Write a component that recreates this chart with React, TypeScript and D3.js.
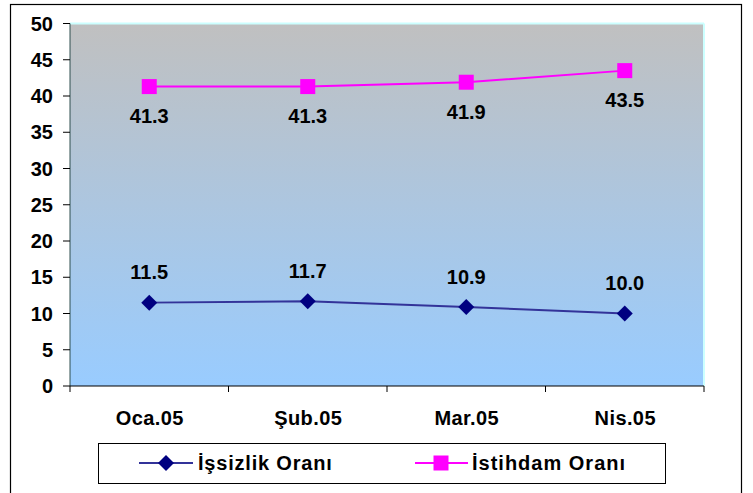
import React from "react";
import * as d3 from "d3";

const categories = ["Oca.05", "Şub.05", "Mar.05", "Nis.05"];
const issizlik = [11.5, 11.7, 10.9, 10.0];
const istihdam = [41.3, 41.3, 41.9, 43.5];
const yTicks = [0, 5, 10, 15, 20, 25, 30, 35, 40, 45, 50];
const seriesNames = ["İşsizlik Oranı", "İstihdam Oranı"];

export default function App() {
  const W = 753, H = 493;
  const left = 70, right = 704, top = 23.5, bottom = 386;
  const x = d3.scaleBand<string>().domain(categories).range([left, right]);
  const y = d3.scaleLinear().domain([0, 50]).range([bottom, top]);
  const cx = (c: string) => (x(c) as number) + x.bandwidth() / 2;
  const line = d3.line<number>().x((_, i) => cx(categories[i])).y((d) => y(d));
  const font = "Arial, 'Liberation Sans', sans-serif";
  const fs = 20;
  const diamond = (px: number, py: number, r: number) =>
    `M${px},${py - r}L${px + r},${py}L${px},${py + r}L${px - r},${py}Z`;
  const boundaries = [...categories.map((c) => x(c) as number), right];

  return (
    <svg width={W} height={H} style={{ position: "absolute", left: 0, top: 0 }}>
      <defs>
        <linearGradient id="bg" x1="0" y1="0" x2="0" y2="1">
          <stop offset="0" stopColor="#c0c0c0" />
          <stop offset="1" stopColor="#99ccff" />
        </linearGradient>
      </defs>
      <rect x={0} y={0} width={W} height={H} fill="#fff" />
      <rect x={10.5} y={4.5} width={731} height={500} fill="none" stroke="#000" strokeWidth={1.2} />
      <rect x={left} y={top} width={right - left} height={bottom - top} fill="url(#bg)" />
      <line x1={left} y1={top} x2={right} y2={top} stroke="#ccffff" strokeWidth={2} />
      <line x1={right} y1={top} x2={right} y2={bottom} stroke="#ccffff" strokeWidth={2} />
      <line x1={left} y1={top} x2={left} y2={bottom} stroke="#2f4f4f" strokeWidth={1} />
      <line x1={left} y1={bottom} x2={right} y2={bottom} stroke="#000" strokeWidth={1} />
      {yTicks.map((t) => (
        <g key={t}>
          <line x1={63} x2={left} y1={y(t)} y2={y(t)} stroke="#000" />
          <text x={53} y={y(t)} dy="0.36em" textAnchor="end" fontFamily={font} fontWeight="bold" fontSize={fs}>
            {t}
          </text>
        </g>
      ))}
      {boundaries.map((b, i) => (
        <line key={i} x1={b} x2={b} y1={bottom} y2={bottom + 6} stroke="#000" />
      ))}
      {categories.map((c) => (
        <text key={c} x={cx(c) + 0.5} y={418} dy="0.36em" textAnchor="middle" fontFamily={font} fontWeight="bold" fontSize={fs} letterSpacing={0.4}>
          {c}
        </text>
      ))}
      <path d={line(istihdam) || ""} fill="none" stroke="#ff00ff" strokeWidth={2} />
      <path d={line(issizlik) || ""} fill="none" stroke="#333399" strokeWidth={2} />
      {istihdam.map((v, i) => (
        <g key={"a" + i}>
          <rect x={cx(categories[i]) - 7.5} y={y(v) - 7.5} width={15} height={15} fill="#ff00ff" />
          <text x={cx(categories[i])} y={y(v) + 29.5} dy="0.36em" textAnchor="middle" fontFamily={font} fontWeight="bold" fontSize={fs}>
            {v.toFixed(1)}
          </text>
        </g>
      ))}
      {issizlik.map((v, i) => (
        <g key={"b" + i}>
          <path d={diamond(cx(categories[i]), y(v), 8)} fill="#000080" />
          <text x={cx(categories[i])} y={y(v) - 30.5} dy="0.36em" textAnchor="middle" fontFamily={font} fontWeight="bold" fontSize={fs}>
            {v.toFixed(1)}
          </text>
        </g>
      ))}
      <rect x={98.5} y={443.5} width={567} height={40} fill="#fff" stroke="#000" strokeWidth={1} />
      <line x1={139} x2={193} y1={463} y2={463} stroke="#333399" strokeWidth={2} />
      <path d={diamond(166, 463, 8)} fill="#000080" />
      <text x={198} y={463} dy="0.36em" fontFamily={font} fontWeight="bold" fontSize={fs} letterSpacing={0.8}>
        {seriesNames[0]}
      </text>
      <line x1={415} x2={468} y1={463} y2={463} stroke="#ff00ff" strokeWidth={2} />
      <rect x={433.5} y={455.5} width={15} height={15} fill="#ff00ff" />
      <text x={472} y={463} dy="0.36em" fontFamily={font} fontWeight="bold" fontSize={fs} letterSpacing={1}>
        {seriesNames[1]}
      </text>
    </svg>
  );
}
